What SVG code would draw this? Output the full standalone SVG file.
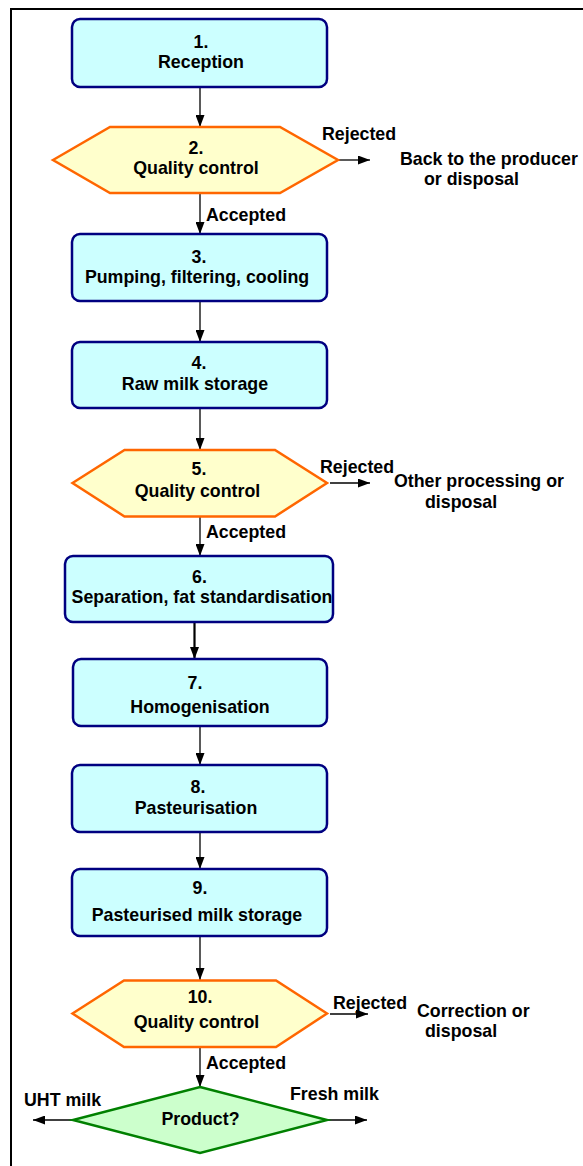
<svg xmlns="http://www.w3.org/2000/svg" width="583" height="1166" viewBox="0 0 583 1166">
<style>
text{font-family:"Liberation Sans",Arial,sans-serif;font-weight:bold;font-size:17.8px;fill:#000}
.c{text-anchor:middle}
.box{fill:#CCFFFF;stroke:#000080;stroke-width:2.5}
.hex{fill:#FFFFCC;stroke:#FF6600;stroke-width:2.5}
.dia{fill:#CCFFCC;stroke:#008000;stroke-width:2.5}
.ln{stroke:#000;stroke-width:1.3;fill:none;marker-end:url(#ah)}
.thick{stroke-width:2.2}
</style>
<defs>
<marker id="ah" markerWidth="12" markerHeight="9" refX="12" refY="4.5" orient="auto" markerUnits="userSpaceOnUse"><path d="M0,0 L12,4.5 L0,9 z" fill="#000"/></marker>
</defs>
<rect x="0" y="0" width="583" height="1166" fill="#fff"/>
<path d="M11,1170 V9 H590" fill="none" stroke="#000" stroke-width="2"/>

<g id="connectors">
<line class="ln" x1="200" y1="87" x2="200" y2="127"/>
<line class="ln" x1="338" y1="160" x2="370" y2="160"/>
<line class="ln" x1="200" y1="193" x2="200" y2="234"/>
<line class="ln" x1="200" y1="301" x2="200" y2="342"/>
<line class="ln" x1="200" y1="408" x2="200" y2="450"/>
<line class="ln" x1="330" y1="483" x2="370" y2="483"/>
<line class="ln" x1="200" y1="517" x2="200" y2="556"/>
<line class="ln thick" x1="194.5" y1="622" x2="194.5" y2="659"/>
<line class="ln" x1="200" y1="727" x2="200" y2="765"/>
<line class="ln" x1="200" y1="833" x2="200" y2="869"/>
<line class="ln" x1="200" y1="936" x2="200" y2="980"/>
<line class="ln" x1="330" y1="1014" x2="368" y2="1014"/>
<line class="ln" x1="200" y1="1047" x2="200" y2="1087"/>
<line class="ln" x1="73" y1="1120" x2="33" y2="1120"/>
<line class="ln" x1="327" y1="1120" x2="367" y2="1120"/>
</g>

<g id="n1"><rect class="box" x="72" y="19" width="255" height="68" rx="8"/>
<text class="c" x="201" y="48">1.</text><text class="c" x="201" y="68">Reception</text></g>

<g id="n2"><polygon class="hex" points="53,160 110,127 280,127 338,160 280,193 110,193"/>
<text class="c" x="196" y="154">2.</text><text class="c" x="196" y="174">Quality control</text></g>

<g id="l2"><text x="322" y="140">Rejected</text>
<text x="400" y="165">Back to the producer</text><text x="424" y="185">or disposal</text>
<text x="206" y="221">Accepted</text></g>

<g id="n3"><rect class="box" x="72" y="234" width="255" height="67" rx="8"/>
<text class="c" x="199" y="263">3.</text><text class="c" x="197" y="283">Pumping, filtering, cooling</text></g>

<g id="n4"><rect class="box" x="72" y="342" width="255" height="66" rx="8"/>
<text class="c" x="199" y="369">4.</text><text class="c" x="195" y="390">Raw milk storage</text></g>

<g id="n5"><polygon class="hex" points="72.5,483 124.5,450 275,450 327,483 275,516.5 124.5,516.5"/>
<text class="c" x="199" y="475">5.</text><text class="c" x="197.5" y="497">Quality control</text></g>

<g id="l5"><text x="320" y="473">Rejected</text>
<text x="394" y="487">Other processing or</text><text x="425" y="508">disposal</text>
<text x="206" y="538">Accepted</text></g>

<g id="n6"><rect class="box" x="65" y="556" width="268" height="66" rx="8"/>
<text class="c" x="199.5" y="583">6.</text><text class="c" x="202" y="603">Separation, fat standardisation</text></g>

<g id="n7"><rect class="box" x="73" y="659" width="254" height="67" rx="8"/>
<text class="c" x="195" y="689">7.</text><text class="c" x="200" y="713">Homogenisation</text></g>

<g id="n8"><rect class="box" x="72" y="765" width="255" height="67" rx="8"/>
<text class="c" x="198" y="793">8.</text><text class="c" x="196" y="814">Pasteurisation</text></g>

<g id="n9"><rect class="box" x="72" y="869" width="255" height="67" rx="8"/>
<text class="c" x="200" y="894">9.</text><text class="c" x="197" y="921">Pasteurised milk storage</text></g>

<g id="n10"><polygon class="hex" points="72.5,1013.5 124,980.5 276,980.5 327,1013.5 276,1047 124,1047"/>
<text class="c" x="200" y="1003">10.</text><text class="c" x="196.5" y="1028">Quality control</text></g>

<g id="l10"><text x="333" y="1009">Rejected</text>
<text x="417" y="1017">Correction or</text><text x="425" y="1037">disposal</text>
<text x="206" y="1069">Accepted</text></g>

<g id="n11"><polygon class="dia" points="200,1087 327,1120 200,1153 73,1120"/>
<text class="c" x="200.5" y="1125">Product?</text></g>

<g id="l11"><text x="24" y="1106">UHT milk</text><text x="290" y="1100">Fresh milk</text></g>
</svg>
